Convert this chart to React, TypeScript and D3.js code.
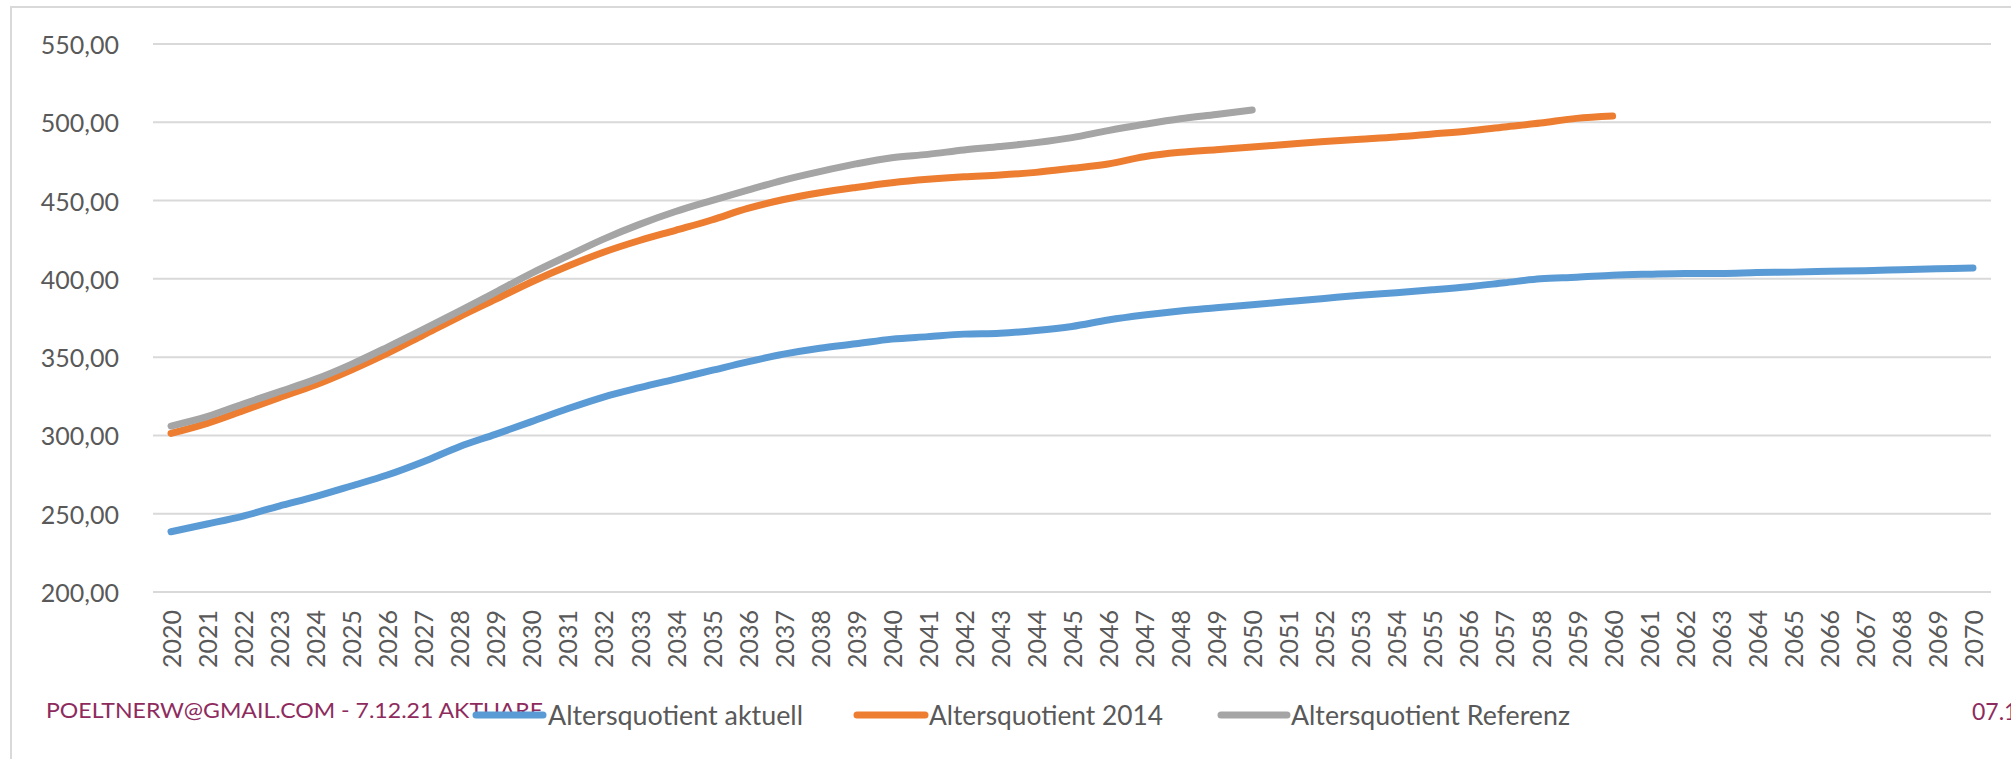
import React from "react";
import * as d3 from "d3";

const years: string[] = d3.range(2020, 2071).map(String);

const aktuell: number[] = [
  238.5, 243.4, 248.5, 254.9, 260.9, 267.7, 274.7, 283.2, 292.8, 300.7,
  308.8, 317.0, 324.5, 330.5, 336.0, 341.5, 347.0, 351.9, 355.7, 358.5,
  361.5, 363.1, 364.7, 365.3, 367.0, 369.6, 373.7, 376.9, 379.5, 381.5,
  383.5, 385.5, 387.5, 389.5, 391.2, 393.0, 395.0, 397.5, 400.0, 401.0,
  402.3, 403.0, 403.5, 403.5, 404.0, 404.3, 404.8, 405.2, 405.8, 406.4,
  407.0,
];

const q2014: number[] = [
  301.3, 307.7, 315.8, 324.1, 332.2, 341.8, 352.4, 364.1, 375.8, 386.9,
  398.0, 408.0, 417.0, 424.5, 431.0, 437.6, 445.0, 450.7, 455.0, 458.4,
  461.4, 463.6, 465.2, 466.3, 468.0, 470.6, 473.4, 478.0, 480.8, 482.5,
  484.2, 486.0, 487.8, 489.2, 490.6, 492.5, 494.4, 497.0, 499.5, 502.5,
  504.0,
];

const referenz: number[] = [
  306.0, 312.0, 320.1, 327.9, 335.8, 345.4, 356.3, 367.7, 379.4, 391.4,
  403.5, 414.6, 425.4, 434.8, 443.0, 450.0, 456.7, 463.1, 468.5, 473.4,
  477.4, 479.5, 482.3, 484.5, 487.0, 490.2, 494.7, 498.7, 502.3, 505.0,
  507.8,
];

const yTicks: number[] = [200, 250, 300, 350, 400, 450, 500, 550];

const seriesNames: string[] = [
  "Altersquotient aktuell",
  "Altersquotient 2014",
  "Altersquotient Referenz",
];

const footerLeft = "POELTNERW@GMAIL.COM - 7.12.21 AKTUARE";
const footerRight = "07.12.2021";

const colors = ["#5B9BD5", "#ED7D31", "#A5A5A5"];

export default function App() {
  const W = 2011;
  const H = 759;
  const x = d3.scaleBand<string>().domain(years).range([153, 1991]).paddingInner(0).paddingOuter(0);
  const bw = x.bandwidth();
  const cx = (yr: string) => (x(yr) as number) + bw / 2;
  const y = d3.scaleLinear().domain([200, 550]).range([592, 44]);

  const locale = d3.formatLocale({ decimal: ",", thousands: ".", grouping: [3], currency: ["", "€"] });
  const fmt = locale.format(".2f");

  const line = d3
    .line<number>()
    .x((_, i) => cx(years[i]))
    .y((d) => y(d))
    .curve(d3.curveMonotoneX);

  const series = [aktuell, q2014, referenz];

  const legend = [
    { x1: 476, x2: 543, tx: 548, tl: 255 },
    { x1: 857, x2: 925, tx: 929, tl: 234 },
    { x1: 1221, x2: 1287, tx: 1291, tl: 279 },
  ];

  const font = "Lato, 'Open Sans', sans-serif";

  return (
    <svg
      width={W}
      height={H}
      style={{ position: "absolute", left: 0, top: 0, background: "#fff" }}
      xmlns="http://www.w3.org/2000/svg"
    >
      <rect x={0} y={0} width={W} height={H} fill="#fff" />
      <rect x={11} y={7} width={W + 50} height={H + 50} fill="none" stroke="#D9D9D9" strokeWidth={2} />

      {yTicks.map((t) => (
        <g key={t}>
          <line x1={153} x2={1991} y1={y(t)} y2={y(t)} stroke="#D9D9D9" strokeWidth={2} />
          <text
            x={119}
            y={y(t)}
            textAnchor="end"
            dominantBaseline="central"
            fontFamily={font}
            fontSize={25}
            fill="#595959"
          >
            {fmt(t)}
          </text>
        </g>
      ))}

      {years.map((yr) => (
        <text
          key={yr}
          transform={`translate(${cx(yr)},610) rotate(-90)`}
          textAnchor="end"
          dominantBaseline="central"
          fontFamily={font}
          fontSize={25}
          fill="#595959"
        >
          {yr}
        </text>
      ))}

      {series.map((s, i) => (
        <path
          key={i}
          d={line(s) || ""}
          fill="none"
          stroke={colors[i]}
          strokeWidth={7}
          strokeLinecap="round"
          strokeLinejoin="round"
        />
      ))}

      <text
        x={46}
        y={718}
        fontFamily={font}
        fontSize={22}
        fill="#8E2B5E"
        textLength={497}
        lengthAdjust="spacingAndGlyphs"
      >
        {footerLeft}
      </text>
      <text x={1972} y={720} fontFamily={font} fontSize={23} fill="#8E2B5E">
        {footerRight}
      </text>

      {legend.map((l, i) => (
        <g key={i}>
          <line x1={l.x1} x2={l.x2} y1={715} y2={715} stroke={colors[i]} strokeWidth={7} strokeLinecap="round" />
          <text
            x={l.tx}
            y={725}
            fontFamily={font}
            fontSize={26}
            fill="#595959"
            textLength={l.tl}
            lengthAdjust="spacingAndGlyphs"
          >
            {seriesNames[i]}
          </text>
        </g>
      ))}
    </svg>
  );
}
